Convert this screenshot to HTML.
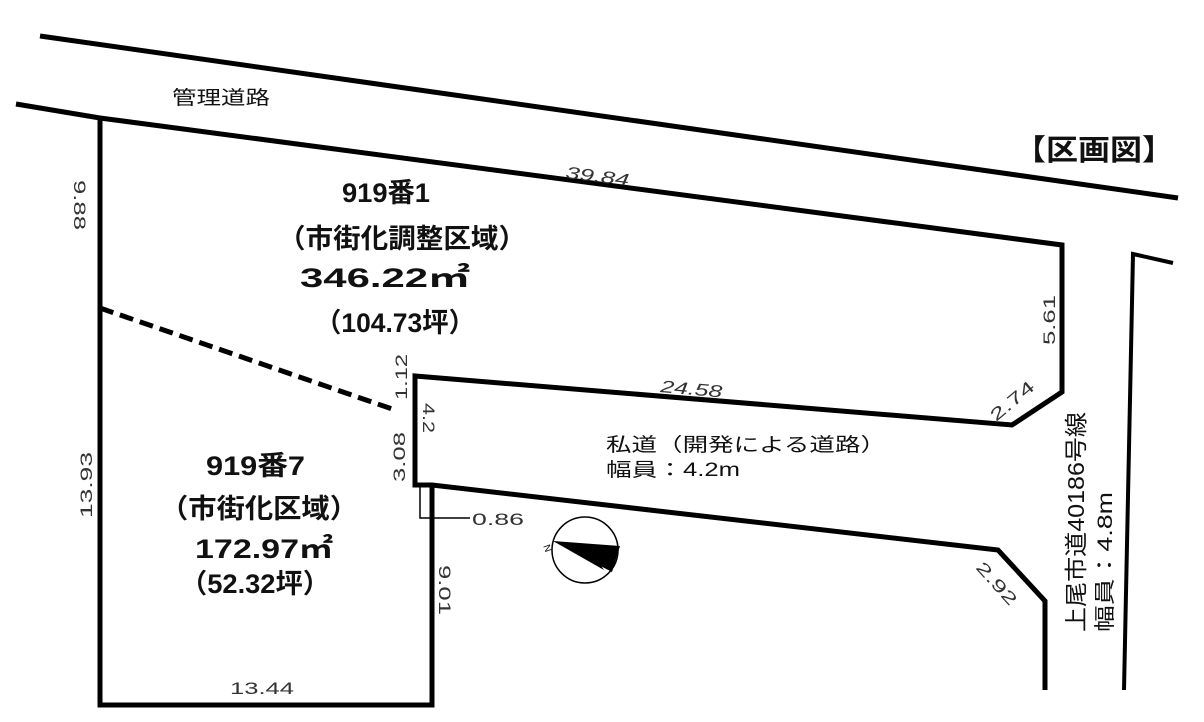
<!DOCTYPE html>
<html><head><meta charset="utf-8"><style>
html,body{margin:0;padding:0;background:#fff;}
svg{display:block;}
text{font-family:"Liberation Sans","Noto Sans CJK JP",sans-serif;fill:#111;}
.b{font-weight:bold;}
.d{font-size:17px;fill:#333;}
</style></head><body>
<svg width="1204" height="722" viewBox="0 0 1204 722" xmlns="http://www.w3.org/2000/svg">
<g stroke="#000" stroke-width="5" fill="none" stroke-linejoin="miter">
<line x1="40" y1="36" x2="1178" y2="198"/>
<polyline points="16,104 100,118 1062,245 1062,392 1012,425 415,376 415,485 432,485 998,550 1045,601 1045,690"/>
<polyline points="100,118 100,705 432,705 432,485"/>
<polyline points="1173,263 1133,254 1124,690" stroke-width="4"/>
<line x1="100" y1="308" x2="395" y2="410" stroke-dasharray="14,7"/>
</g>
<g stroke="#000" stroke-width="1.5" fill="none">
<polyline points="420,485 420,518 470,518"/>
<circle cx="585" cy="550" r="33"/>
</g>
<polygon points="553,541 620,546 612,572 600,564 604,570" fill="#000"/>
<polygon points="553,541 604,548 612,572" fill="#000"/>
<text x="546" y="548" font-size="10" transform="rotate(70 546 545)">N</text>

<text x="172" y="104" font-size="19" fill="#333" textLength="98" lengthAdjust="spacingAndGlyphs">管理道路</text>
<text x="1014" y="160" font-size="29" class="b" textLength="160" lengthAdjust="spacingAndGlyphs">【区画図】</text>
<text x="565" y="178" font-size="17" font-style="italic" transform="rotate(7 565 178)" class="d" textLength="64" lengthAdjust="spacingAndGlyphs">39.84</text>

<text x="342" y="202" font-size="27" class="b" textLength="88" lengthAdjust="spacingAndGlyphs">919番1</text>
<text x="278" y="248" font-size="27" class="b" textLength="248" lengthAdjust="spacingAndGlyphs">（市街化調整区域）</text>
<text x="300" y="287" font-size="27" class="b" textLength="170" lengthAdjust="spacingAndGlyphs">346.22㎡</text>
<text x="315" y="332" font-size="27" class="b" textLength="160" lengthAdjust="spacingAndGlyphs">（104.73坪）</text>

<text x="206" y="475" font-size="27" class="b" textLength="99" lengthAdjust="spacingAndGlyphs">919番7</text>
<text x="160" y="518" font-size="27" class="b" textLength="198" lengthAdjust="spacingAndGlyphs">（市街化区域）</text>
<text x="195" y="558" font-size="27" class="b" textLength="138" lengthAdjust="spacingAndGlyphs">172.97㎡</text>
<text x="180" y="593" font-size="27" class="b" textLength="150" lengthAdjust="spacingAndGlyphs">（52.32坪）</text>

<text x="606" y="451" font-size="19" textLength="280" lengthAdjust="spacingAndGlyphs">私道（開発による道路）</text>
<text x="606" y="476" font-size="19" textLength="134" lengthAdjust="spacingAndGlyphs">幅員：4.2m</text>
<text x="660" y="392" class="d" font-style="italic" transform="rotate(5 660 392)" textLength="62" lengthAdjust="spacingAndGlyphs">24.58</text>
<text x="230" y="694" class="d" textLength="64" lengthAdjust="spacingAndGlyphs">13.44</text>
<text x="472" y="525" class="d" textLength="52" lengthAdjust="spacingAndGlyphs">0.86</text>

<text class="d" transform="translate(74,180) rotate(90)" textLength="50" lengthAdjust="spacingAndGlyphs">9.88</text>
<text class="d" transform="translate(92,518) rotate(-90)" textLength="66" lengthAdjust="spacingAndGlyphs">13.93</text>
<text class="d" transform="translate(439,565) rotate(90)" textLength="50" lengthAdjust="spacingAndGlyphs">9.01</text>
<text class="d" transform="translate(1055,345) rotate(-90)" textLength="50" lengthAdjust="spacingAndGlyphs">5.61</text>
<text class="d" transform="translate(407,400) rotate(-90)" textLength="46" lengthAdjust="spacingAndGlyphs">1.12</text>
<text class="d" transform="translate(423,403) rotate(90)" textLength="30" lengthAdjust="spacingAndGlyphs">4.2</text>
<text class="d" transform="translate(405,482) rotate(-90)" textLength="50" lengthAdjust="spacingAndGlyphs">3.08</text>
<text class="d" transform="translate(996,422) rotate(-40)" textLength="52" lengthAdjust="spacingAndGlyphs">2.74</text>
<text class="d" transform="translate(975,568) rotate(48)" textLength="52" lengthAdjust="spacingAndGlyphs">2.92</text>

<text font-size="23" transform="translate(1084,632) rotate(-90)" textLength="220" lengthAdjust="spacingAndGlyphs">上尾市道40186号線</text>
<text font-size="21" transform="translate(1112,632) rotate(-90)" textLength="140" lengthAdjust="spacingAndGlyphs">幅員：4.8m</text>
</svg>
</body></html>
